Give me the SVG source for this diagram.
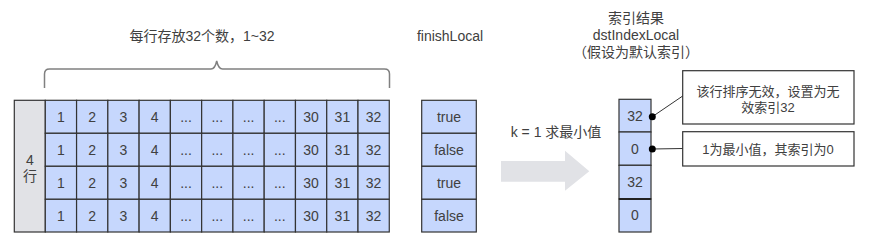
<svg xmlns="http://www.w3.org/2000/svg" width="870" height="247" viewBox="0 0 870 247">
<style>
text{font-family:"Liberation Sans","Noto Sans CJK SC",sans-serif;fill:#404040;font-size:14px;text-anchor:middle}
.cell{fill:#c6d7fd;stroke:#333;stroke-width:1.2}
.lab{fill:#e1e2e6;stroke:#333;stroke-width:1.2}
.box{fill:#fff;stroke:#333;stroke-width:1.2}
.sm{font-size:13px}
.dot{fill:#000}
.ln{stroke:#333;stroke-width:1;fill:none}
</style>
<rect width="870" height="247" fill="#fff"/>
<g id="title-brace">
<text x="202" y="41">每行存放32个数，1~32</text>
<path d="M44.5,88 V74 Q44.5,69 49.5,69 H211 Q215,69 216.7,61 Q218.5,69 222.5,69 H384.5 Q389.5,69 389.5,74 V88" fill="none" stroke="#808080" stroke-width="1.5"/>
</g>
<g id="grid">
<rect class="lab" x="14.3" y="100.3" width="31" height="131.7"/>
<text x="30" y="165">4</text>
<text x="30" y="181">行</text>
<g id="cells">
<rect class="cell" x="45.3" y="100.3" width="31.27" height="33"/><rect class="cell" x="76.57" y="100.3" width="31.27" height="33"/><rect class="cell" x="107.84" y="100.3" width="31.27" height="33"/><rect class="cell" x="139.11" y="100.3" width="31.27" height="33"/><rect class="cell" x="170.38" y="100.3" width="31.27" height="33"/><rect class="cell" x="201.65" y="100.3" width="31.27" height="33"/><rect class="cell" x="232.92" y="100.3" width="31.27" height="33"/><rect class="cell" x="264.19" y="100.3" width="31.27" height="33"/><rect class="cell" x="295.46" y="100.3" width="31.27" height="33"/><rect class="cell" x="326.73" y="100.3" width="31.27" height="33"/><rect class="cell" x="358" y="100.3" width="31.27" height="33"/>
<rect class="cell" x="45.3" y="133.3" width="31.27" height="33"/><rect class="cell" x="76.57" y="133.3" width="31.27" height="33"/><rect class="cell" x="107.84" y="133.3" width="31.27" height="33"/><rect class="cell" x="139.11" y="133.3" width="31.27" height="33"/><rect class="cell" x="170.38" y="133.3" width="31.27" height="33"/><rect class="cell" x="201.65" y="133.3" width="31.27" height="33"/><rect class="cell" x="232.92" y="133.3" width="31.27" height="33"/><rect class="cell" x="264.19" y="133.3" width="31.27" height="33"/><rect class="cell" x="295.46" y="133.3" width="31.27" height="33"/><rect class="cell" x="326.73" y="133.3" width="31.27" height="33"/><rect class="cell" x="358" y="133.3" width="31.27" height="33"/>
<rect class="cell" x="45.3" y="166.3" width="31.27" height="33"/><rect class="cell" x="76.57" y="166.3" width="31.27" height="33"/><rect class="cell" x="107.84" y="166.3" width="31.27" height="33"/><rect class="cell" x="139.11" y="166.3" width="31.27" height="33"/><rect class="cell" x="170.38" y="166.3" width="31.27" height="33"/><rect class="cell" x="201.65" y="166.3" width="31.27" height="33"/><rect class="cell" x="232.92" y="166.3" width="31.27" height="33"/><rect class="cell" x="264.19" y="166.3" width="31.27" height="33"/><rect class="cell" x="295.46" y="166.3" width="31.27" height="33"/><rect class="cell" x="326.73" y="166.3" width="31.27" height="33"/><rect class="cell" x="358" y="166.3" width="31.27" height="33"/>
<rect class="cell" x="45.3" y="199.3" width="31.27" height="32.7"/><rect class="cell" x="76.57" y="199.3" width="31.27" height="32.7"/><rect class="cell" x="107.84" y="199.3" width="31.27" height="32.7"/><rect class="cell" x="139.11" y="199.3" width="31.27" height="32.7"/><rect class="cell" x="170.38" y="199.3" width="31.27" height="32.7"/><rect class="cell" x="201.65" y="199.3" width="31.27" height="32.7"/><rect class="cell" x="232.92" y="199.3" width="31.27" height="32.7"/><rect class="cell" x="264.19" y="199.3" width="31.27" height="32.7"/><rect class="cell" x="295.46" y="199.3" width="31.27" height="32.7"/><rect class="cell" x="326.73" y="199.3" width="31.27" height="32.7"/><rect class="cell" x="358" y="199.3" width="31.27" height="32.7"/>
</g>
<g id="cell-text">
<text x="61" y="122">1</text><text x="92.2" y="122">2</text><text x="123.5" y="122">3</text><text x="154.7" y="122">4</text><text x="186" y="122">...</text><text x="217.3" y="122">...</text><text x="248.6" y="122">...</text><text x="279.8" y="122">...</text><text x="311.1" y="122">30</text><text x="342.4" y="122">31</text><text x="373.6" y="122">32</text>
<text x="61" y="155">1</text><text x="92.2" y="155">2</text><text x="123.5" y="155">3</text><text x="154.7" y="155">4</text><text x="186" y="155">...</text><text x="217.3" y="155">...</text><text x="248.6" y="155">...</text><text x="279.8" y="155">...</text><text x="311.1" y="155">30</text><text x="342.4" y="155">31</text><text x="373.6" y="155">32</text>
<text x="61" y="188">1</text><text x="92.2" y="188">2</text><text x="123.5" y="188">3</text><text x="154.7" y="188">4</text><text x="186" y="188">...</text><text x="217.3" y="188">...</text><text x="248.6" y="188">...</text><text x="279.8" y="188">...</text><text x="311.1" y="188">30</text><text x="342.4" y="188">31</text><text x="373.6" y="188">32</text>
<text x="61" y="221">1</text><text x="92.2" y="221">2</text><text x="123.5" y="221">3</text><text x="154.7" y="221">4</text><text x="186" y="221">...</text><text x="217.3" y="221">...</text><text x="248.6" y="221">...</text><text x="279.8" y="221">...</text><text x="311.1" y="221">30</text><text x="342.4" y="221">31</text><text x="373.6" y="221">32</text>
</g>
</g>
<g id="finishLocal">
<text x="450" y="41">finishLocal</text>
<rect class="cell" x="421.7" y="100.3" width="54.6" height="33"/>
<rect class="cell" x="421.7" y="133.3" width="54.6" height="33"/>
<rect class="cell" x="421.7" y="166.3" width="54.6" height="33"/>
<rect class="cell" x="421.7" y="199.3" width="54.6" height="32.7"/>
<text x="449" y="122">true</text>
<text x="449" y="155">false</text>
<text x="449" y="188">true</text>
<text x="449" y="221">false</text>
</g>
<g id="arrow">
<text x="556" y="137">k = 1 求最小值</text>
<polygon points="501,161 565,161 565,150.7 589.3,171.3 565,190.7 565,181.7 501,181.7" fill="#e1e2e6"/>
</g>
<g id="dstIndexLocal">
<text x="636" y="23">索引结果</text>
<text x="636" y="40">dstIndexLocal</text>
<text x="636" y="57">（假设为默认索引）</text>
<rect class="cell" x="619" y="99.3" width="32" height="32.7"/>
<rect class="cell" x="619" y="132" width="32" height="33.3"/>
<rect class="cell" x="619" y="165.3" width="32" height="33.7"/>
<rect class="cell" x="619" y="199" width="32" height="33"/>
<line x1="619" y1="199" x2="651" y2="199" stroke="#222" stroke-width="2"/>
<text x="635" y="121">32</text>
<text x="635" y="154">0</text>
<text x="635" y="187">32</text>
<text x="635" y="220">0</text>
</g>
<g id="callout1">
<rect class="box" x="682.7" y="70.7" width="171.3" height="53.3"/>
<text class="sm" x="768" y="96">该行排序无效，设置为无</text>
<text class="sm" x="768" y="112">效索引32</text>
</g>
<g id="callout2">
<rect class="box" x="682.7" y="131.7" width="171.3" height="34.3"/>
<text class="sm" x="768" y="154">1为最小值，其索引为0</text>
</g>
<g id="connectors">
<line class="ln" x1="652.3" y1="116.7" x2="682.7" y2="96"/>
<line class="ln" x1="652.3" y1="149" x2="682.7" y2="148.5"/>
<circle class="dot" cx="652.3" cy="116.7" r="3.5"/>
<circle class="dot" cx="652.3" cy="149" r="3.5"/>
</g>
</svg>
